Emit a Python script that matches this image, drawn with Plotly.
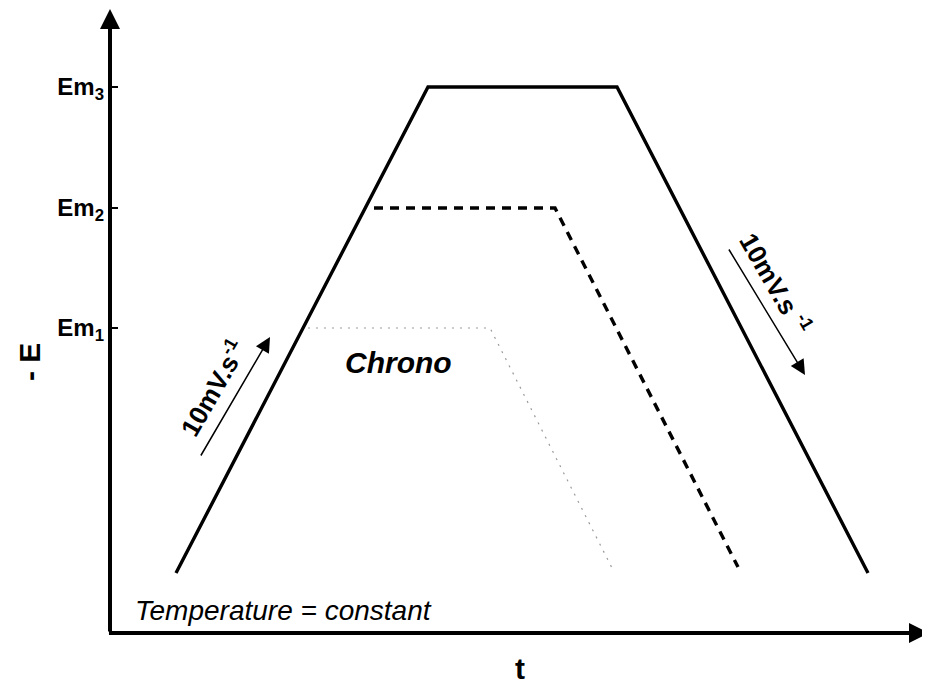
import plotly.graph_objects as go

# ---- data (time in arbitrary units, potential -E in arbitrary units) ----
E_start = 60
Em1, Em2, Em3 = 305, 425, 546

t_solid = [66, 318, 507, 758]
E_solid = [E_start, Em3, Em3, E_start]

t_dashed = [264, 445, 628]
E_dashed = [Em2, Em2, 66]

t_dotted = [198, 380, 502]
E_dotted = [Em1, Em1, 65]

ytick_vals = [Em1, Em2, Em3]
ytick_text = ["<b>Em<sub>1</sub></b>", "<b>Em<sub>2</sub></b>", "<b>Em<sub>3</sub></b>"]

FONT = "Arial, Liberation Sans, sans-serif"

fig = go.Figure()
fig.add_trace(go.Scatter(x=t_solid, y=E_solid, mode="lines",
                         line=dict(color="black", width=3.4), showlegend=False))
fig.add_trace(go.Scatter(x=t_dashed, y=E_dashed, mode="lines",
                         line=dict(color="black", width=3.4, dash="9px,7px"), showlegend=False))
fig.add_trace(go.Scatter(x=t_dotted, y=E_dotted, mode="lines",
                         line=dict(color="#9a9a9a", width=1.2, dash="2px,6px"), showlegend=False))

ann = []
# axis arrows
ann.append(dict(xref="paper", yref="paper", x=0, y=1, ax=0, ay=625, text="",
                showarrow=True, arrowhead=2, arrowwidth=4, arrowsize=1.0,
                arrowcolor="black", standoff=0, startstandoff=0))
ann.append(dict(xref="paper", yref="paper", x=1.014, y=0, ax=-834, ay=0, text="",
                showarrow=True, arrowhead=2, arrowwidth=4, arrowsize=1.0,
                arrowcolor="black", standoff=0, startstandoff=0))
# scan-rate arrows
ann.append(dict(xref="x", yref="y", axref="x", ayref="y", x=160, y=296, ax=90, ay=176,
                text="", showarrow=True, arrowhead=2, arrowwidth=1.5, arrowsize=2,
                arrowcolor="black", standoff=0))
ann.append(dict(xref="x", yref="y", axref="x", ayref="y", x=695, y=258, ax=618, ay=385,
                text="", showarrow=True, arrowhead=2, arrowwidth=1.5, arrowsize=2,
                arrowcolor="black", standoff=0))
ann.append(dict(xref="x", yref="y", x=102, y=245, text="<b>10mV.s<sup>-1</sup></b>",
                textangle=-60, showarrow=False, font=dict(family=FONT, size=26, color="black")))
ann.append(dict(xref="x", yref="y", x=666, y=350, text="<b>10mV.s <sup>-1</sup></b>",
                textangle=60, showarrow=False, font=dict(family=FONT, size=26, color="black")))
# labels
ann.append(dict(xref="x", yref="y", x=288, y=271, text="<b><i>Chrono</i></b>",
                showarrow=False, font=dict(family=FONT, size=30, color="black")))
ann.append(dict(xref="x", yref="y", x=23, y=23, xanchor="left", yanchor="middle",
                text="<i>Temperature = constant</i>",
                showarrow=False, font=dict(family=FONT, size=28, color="black")))
# axis titles
ann.append(dict(xref="paper", yref="paper", x=-0.0988, y=0.4336, xanchor="center", yanchor="middle",
                text="<b>- E</b>", textangle=-90,
                showarrow=False, font=dict(family=FONT, size=30, color="black")))
ann.append(dict(xref="paper", yref="paper", x=0.5, y=-0.056, xanchor="center", yanchor="middle",
                text="<b>t</b>",
                showarrow=False, font=dict(family=FONT, size=30, color="black")))

fig.update_layout(
    width=922, height=680,
    margin=dict(l=102, r=0, t=0, b=55),
    paper_bgcolor="white", plot_bgcolor="white",
    annotations=ann,
    xaxis=dict(range=[0, 820], showgrid=False, zeroline=False, showline=False,
               showticklabels=False, ticks=""),
    yaxis=dict(range=[0, 625], showgrid=False, zeroline=False, showline=False,
               tickmode="array", tickvals=ytick_vals, ticktext=ytick_text,
               ticks="inside", ticklen=8, tickwidth=1.5, tickcolor="black",
               ticklabelstandoff=5,
               tickfont=dict(family=FONT, size=24, color="black")),
)

fig.write_html("out.html")
